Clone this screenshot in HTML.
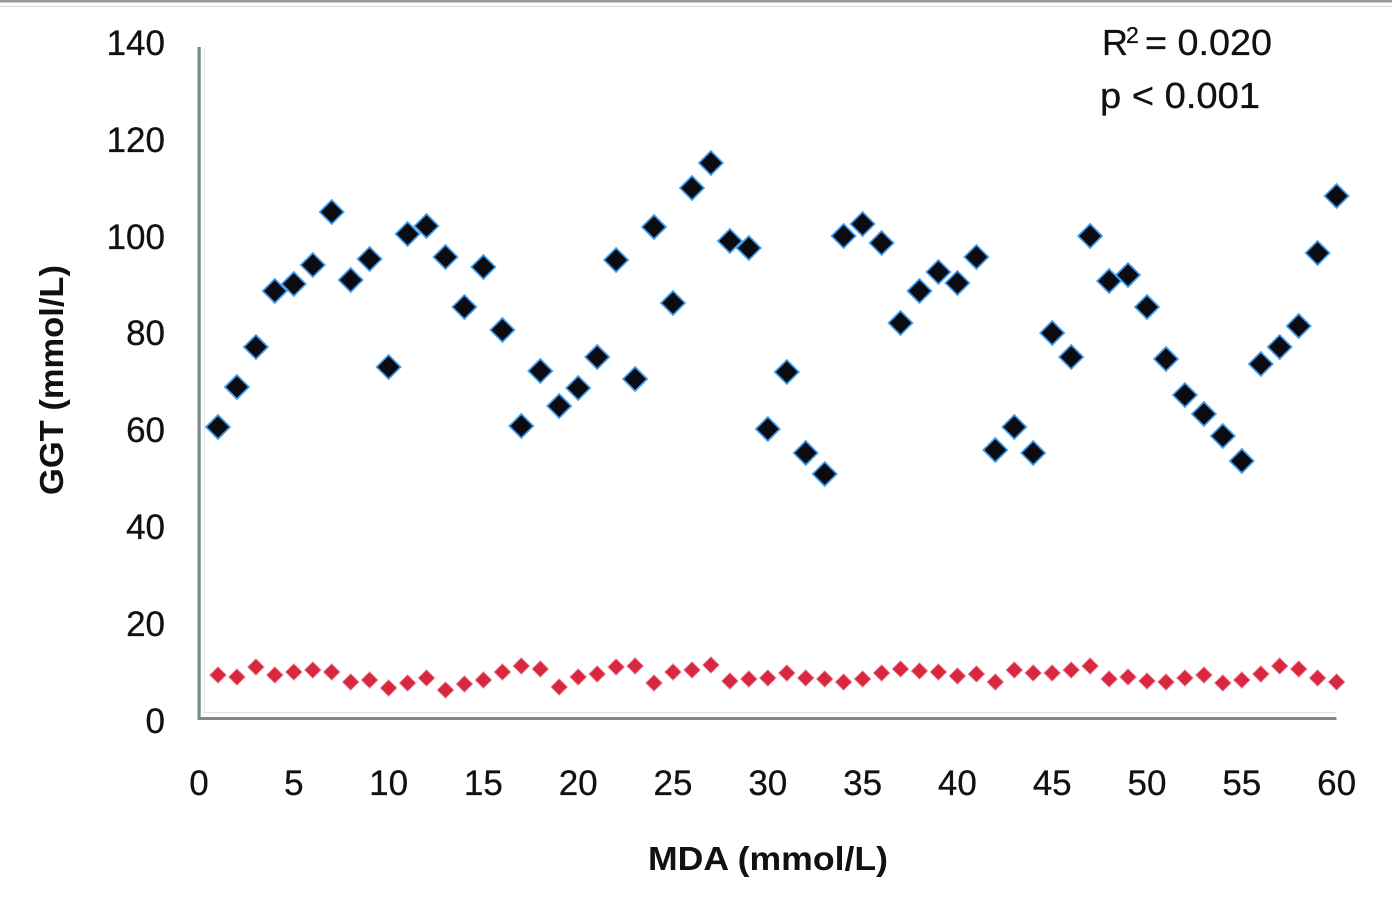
<!DOCTYPE html>
<html>
<head>
<meta charset="utf-8">
<style>
  html,body{margin:0;padding:0;background:#fff;}
  svg{display:block;}
  text{font-family:"Liberation Sans", Arial, sans-serif;fill:#111;}
</style>
</head>
<body>
<svg width="1392" height="916" viewBox="0 0 1392 916" xmlns="http://www.w3.org/2000/svg">
  <defs>
    <marker id="mb" markerUnits="userSpaceOnUse" markerWidth="30" markerHeight="30" refX="15" refY="15" overflow="visible">
      <path d="M15,1.8 L28.2,15 L15,28.2 L1.8,15Z" fill="#3f9ff2"/>
      <path d="M15,4.2 L25.8,15 L15,25.8 L4.2,15Z" fill="#0b0b10"/>
    </marker>
    <marker id="mr" markerUnits="userSpaceOnUse" markerWidth="20" markerHeight="20" refX="10" refY="10" overflow="visible">
      <path d="M10,1 L19,10 L10,19 L1,10Z" fill="#f1a3b2"/>
      <path d="M10,2.2 L17.8,10 L10,17.8 L2.2,10Z" fill="#d8283f"/>
    </marker>
  </defs>
  <rect x="0" y="0" width="1392" height="916" fill="#fff"/>
  <rect x="0" y="0" width="1392" height="2.5" fill="#9a9a9a"/>
  <rect x="0" y="6" width="1392" height="1" fill="#dcdcdc"/>

  <rect x="203" y="712" width="1133" height="1" fill="#dedede"/>
  <rect x="204" y="48" width="1" height="665" fill="#e6e6e6"/>
  <rect x="197.5" y="47" width="3.2" height="673" fill="#7d8a8a"/>
  <rect x="197.5" y="717" width="1139" height="3" fill="#7d8a8a"/>

  <g font-size="35" text-anchor="end" stroke="#111" stroke-width="0.3">
    <text x="165" y="55">140</text>
    <text x="165" y="152">120</text>
    <text x="165" y="249">100</text>
    <text x="165" y="345">80</text>
    <text x="165" y="442">60</text>
    <text x="165" y="539">40</text>
    <text x="165" y="636">20</text>
    <text x="165" y="733">0</text>
  </g>
  <g font-size="35" text-anchor="middle" stroke="#111" stroke-width="0.3">
    <text x="199" y="795">0</text>
    <text x="293.8" y="795">5</text>
    <text x="388.6" y="795">10</text>
    <text x="483.4" y="795">15</text>
    <text x="578.2" y="795">20</text>
    <text x="673" y="795">25</text>
    <text x="767.8" y="795">30</text>
    <text x="862.6" y="795">35</text>
    <text x="957.4" y="795">40</text>
    <text x="1052.2" y="795">45</text>
    <text x="1147" y="795">50</text>
    <text x="1241.8" y="795">55</text>
    <text x="1336.6" y="795">60</text>
  </g>

  <text x="768" y="870" font-size="33" font-weight="bold" text-anchor="middle" textLength="240" lengthAdjust="spacingAndGlyphs">MDA (mmol/L)</text>
  <text transform="translate(63,380) rotate(-90)" font-size="33" font-weight="bold" text-anchor="middle" textLength="230" lengthAdjust="spacingAndGlyphs">GGT (mmol/L)</text>

  <g stroke="#111" stroke-width="0.3">
    <text x="1102" y="55" font-size="36">R</text>
    <text x="1126" y="43" font-size="23">2</text>
    <text x="1145" y="55" font-size="36" textLength="127" lengthAdjust="spacingAndGlyphs">= 0.020</text>
    <text x="1100" y="108" font-size="36" textLength="160" lengthAdjust="spacingAndGlyphs">p &lt; 0.001</text>
  </g>

  <polyline fill="none" stroke="none" marker-start="url(#mr)" marker-mid="url(#mr)" marker-end="url(#mr)"
    points="218,675 236.9,677 255.9,667 274.8,675 293.8,672 312.8,670 331.7,672 350.7,682 369.6,680 388.6,688
            407.6,683 426.5,678 445.5,690 464.4,684 483.4,680 502.4,672 521.3,666 540.3,669 559.2,687 578.2,677
            597.2,674 616.1,667 635.1,666 654,683 673,672 692,670 710.9,665 729.9,681 748.8,679 767.8,678
            786.8,673 805.7,678 824.7,679 843.6,682 862.6,679 881.6,673 900.5,669 919.5,671 938.4,672 957.4,676
            976.4,674 995.3,682 1014.3,670 1033.2,673 1052.2,673 1071.2,670 1090.1,666 1109.1,679 1128,677 1147,681
            1166,682 1184.9,678 1203.9,675 1222.8,683 1241.8,680 1260.8,674 1279.7,666 1298.7,669 1317.6,678 1336.6,682"/>

  <polyline fill="none" stroke="none" marker-start="url(#mb)" marker-mid="url(#mb)" marker-end="url(#mb)"
    points="218,427 236.9,387 255.9,347 274.8,291 293.8,284 312.8,265 331.7,212 350.7,280 369.6,259 388.6,367
            407.6,234 426.5,226 445.5,257 464.4,307 483.4,267 502.4,330 521.3,426 540.3,371 559.2,406 578.2,388
            597.2,357 616.1,260 635.1,379 654,227 673,303 692,188 710.9,163 729.9,241 748.8,248 767.8,429
            786.8,372 805.7,453 824.7,474 843.6,236 862.6,224 881.6,243 900.5,323 919.5,291 938.4,272 957.4,283
            976.4,257 995.3,450 1014.3,427 1033.2,453 1052.2,333 1071.2,357 1090.1,236 1109.1,281 1128,275 1147,307
            1166,359 1184.9,395 1203.9,414 1222.8,436 1241.8,461 1260.8,364 1279.7,347 1298.7,326 1317.6,253 1336.6,196"/>
</svg>
</body>
</html>
